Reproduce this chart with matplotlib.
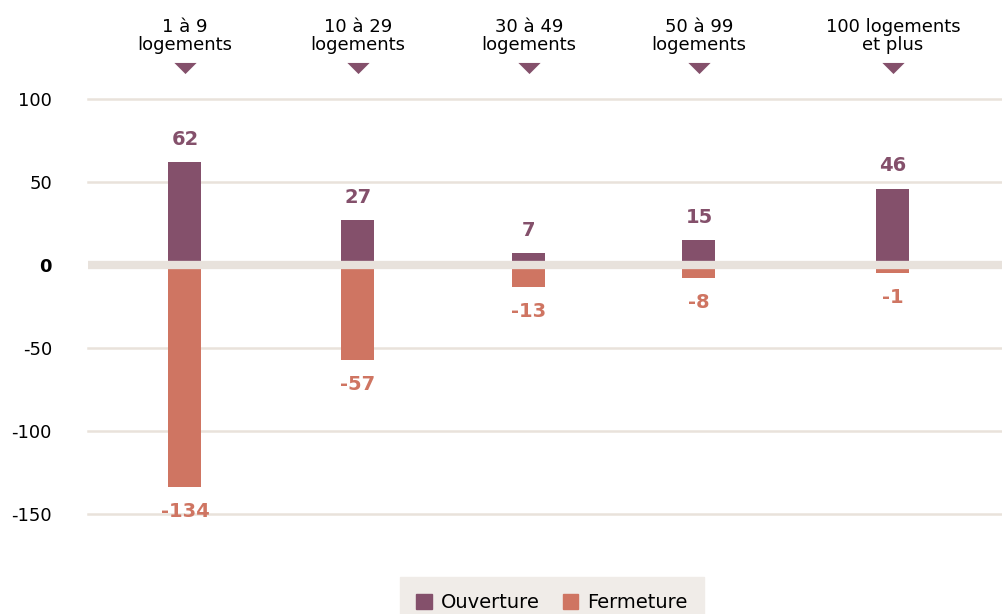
import matplotlib
matplotlib.use("Agg")
import matplotlib.pyplot as plt
from matplotlib.patches import Patch, Rectangle

# data
categories = ["1 à 9\nlogements", "10 à 29\nlogements", "30 à 49\nlogements",
              "50 à 99\nlogements", "100 logements\net plus"]
ouverture = [62, 27, 7, 15, 46]
fermeture = [-134, -57, -13, -8, -1]
yticks = [100, 50, 0, -50, -100, -150]

PURPLE = "#84506b"
ORANGE = "#cf7562"
GRID = "#e9e2db"
ZERO = "#e8e2dc"
LEGEND_BG = "#f0ece8"

W, H = 1003, 614
fig = plt.figure(figsize=(W / 100, H / 100), dpi=100)
plt.rcParams["font.family"] = "DejaVu Sans"

# axes placed in pixel terms: x 88..1003, y 99 (100) .. 514 (-150)
ax = fig.add_axes([88 / W, 1 - 514 / H, (W - 88) / W, 415 / H])
ax.set_xlim(0, 915)
ax.set_ylim(-150, 100)

xpos = [97, 270, 441, 611, 805]
bw = 33
min_len = 5  # minimum visible bar length (like minPointLength)
tri = [(-1, 0.5), (1, 0.5), (0, -0.5), (-1, 0.5)]

for v in yticks:
    if v != 0:
        ax.axhline(v, color=GRID, lw=1.8, zorder=0, clip_on=False)

for x, o, f in zip(xpos, ouverture, fermeture):
    fv = min(f, -min_len)
    ax.bar(x, o, width=bw, color=PURPLE, zorder=2)
    ax.bar(x, fv, width=bw, color=ORANGE, zorder=2)
    ax.text(x, o + 8, str(o), ha="center", va="bottom", color=PURPLE,
            fontsize=14, fontweight="bold", clip_on=False, zorder=4)
    ax.text(x, fv - 9, str(f), ha="center", va="top", color=ORANGE,
            fontsize=14, fontweight="bold", clip_on=False, zorder=4)

ax.axhline(0, color=ZERO, lw=6, zorder=3)

for x, lab in zip(xpos, categories):
    ax.text(x, 1 + 63 / 415, lab, transform=ax.get_xaxis_transform(),
            ha="center", va="center", fontsize=13, linespacing=0.95,
            clip_on=False)
    ax.plot([x], [1 + 31 / 415], marker=tri, ms=16, color=PURPLE, mew=0,
            transform=ax.get_xaxis_transform(), clip_on=False)

ax.set_yticks(yticks)
ax.set_yticklabels([str(v) for v in yticks], fontsize=13)
for lab in ax.get_yticklabels():
    if lab.get_text() == "0":
        lab.set_fontweight("bold")
ax.tick_params(axis="y", length=0, pad=26)
ax.set_xticks([])
for s in ax.spines.values():
    s.set_visible(False)

# legend box
fig.patches.append(Rectangle((400 / W, 0), 304 / W, 37 / H,
                             transform=fig.transFigure, color=LEGEND_BG, zorder=0))
handles = [Patch(color=PURPLE, label="Ouverture"), Patch(color=ORANGE, label="Fermeture")]
fig.legend(handles=handles, loc="center", bbox_to_anchor=(552 / W, 1 - 603 / H),
           ncol=2, frameon=False, fontsize=14, handlelength=0.8, handleheight=0.8,
           handletextpad=0.45, columnspacing=1.2)

fig.savefig("out.png", dpi=100)
